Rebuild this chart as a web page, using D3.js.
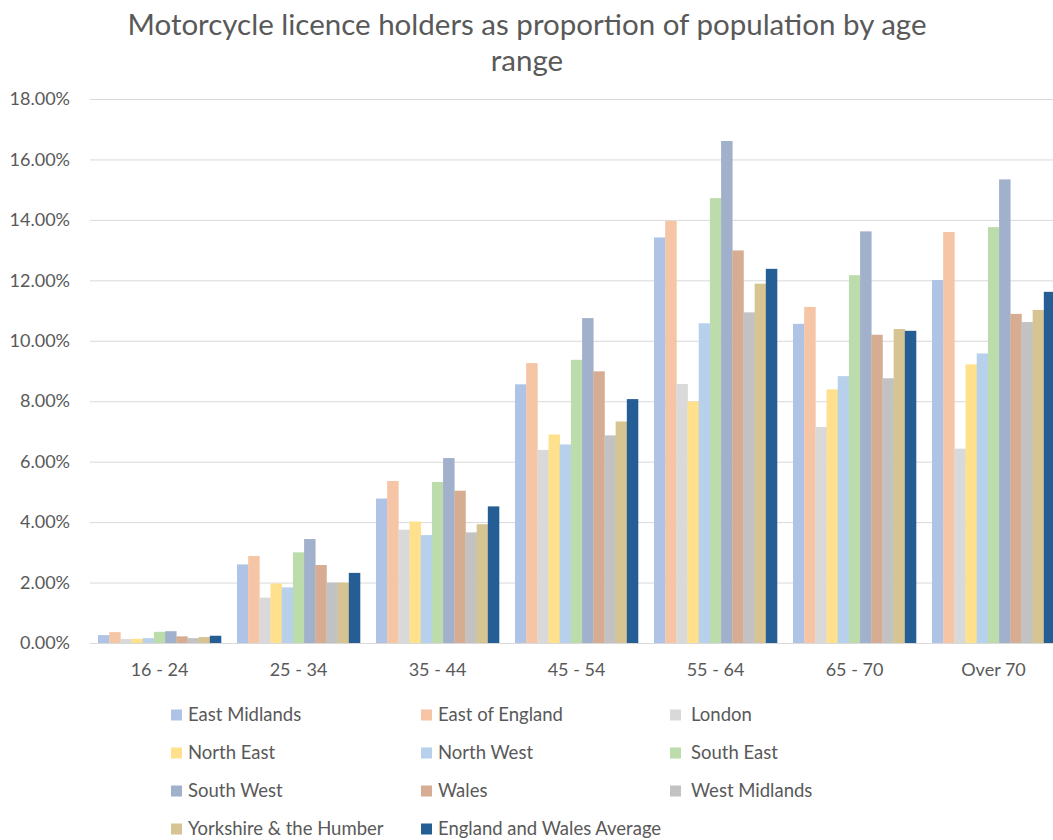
<!DOCTYPE html>
<html>
<head>
<meta charset="utf-8">
<script src="https://cdn.jsdelivr.net/npm/d3@7"></script>
<style>
  html, body { margin: 0; padding: 0; background: #ffffff; }
  svg { display: block; }
  text { font-family: Lato, "Noto Sans", sans-serif; fill: #595959; }
</style>
</head>
<body>
<svg id="chart" width="1053" height="840"></svg>
<script>
// Age ranges along the x axis
const ageRanges = ["16 - 24", "25 - 34", "35 - 44", "45 - 54", "55 - 64", "65 - 70", "Over 70"];

// Regions (one bar per region in each age range)
const regions = [
  "East Midlands", "East of England", "London",
  "North East", "North West", "South East",
  "South West", "Wales", "West Midlands",
  "Yorkshire & the Humber", "England and Wales Average"
];

// Share of population holding a motorcycle licence, in percent, per age range
const eastMidlands    = [0.26, 2.60, 4.78, 8.56, 13.42, 10.56, 12.01];
const eastOfEngland   = [0.36, 2.88, 5.36, 9.26, 13.97, 11.12, 13.60];
const london          = [0.13, 1.50, 3.75, 6.39, 8.57, 7.15, 6.43];
const northEast       = [0.14, 1.97, 4.02, 6.90, 7.99, 8.39, 9.22];
const northWest       = [0.16, 1.84, 3.57, 6.57, 10.58, 8.83, 9.58];
const southEast       = [0.37, 3.00, 5.33, 9.37, 14.72, 12.17, 13.76];
const southWest       = [0.39, 3.44, 6.12, 10.75, 16.61, 13.62, 15.34];
const wales           = [0.22, 2.58, 5.04, 8.99, 12.99, 10.20, 10.89];
const westMidlands    = [0.16, 2.00, 3.66, 6.87, 10.94, 8.76, 10.62];
const yorkshire       = [0.20, 2.00, 3.93, 7.33, 11.89, 10.39, 11.02];
const englandWalesAvg = [0.24, 2.32, 4.52, 8.07, 12.38, 10.33, 11.62];

const seriesValues = [
  eastMidlands, eastOfEngland, london, northEast, northWest, southEast,
  southWest, wales, westMidlands, yorkshire, englandWalesAvg
];

const seriesColors = [
  "#aec3e6", "#f6c5a5", "#d9d9d9", "#ffe08c", "#b7d1ec", "#bcdcac",
  "#a2b1cb", "#d6ad92", "#c2c2c2", "#d6c492", "#245e94"
];

const yTicks = [0, 2, 4, 6, 8, 10, 12, 14, 16, 18];

const titleLines = ["Motorcycle licence holders as proportion of population by age", "range"];

const svg = d3.select("#chart");

// Scales
const x = d3.scaleBand()
  .domain(ageRanges)
  .range([90, 1063])
  .paddingInner(0.115)
  .paddingOuter(0.0575);

const xInner = d3.scaleBand()
  .domain(d3.range(regions.length))
  .range([0, x.bandwidth()]);

const y = d3.scaleLinear()
  .domain([0, 18])
  .range([643, 99]);

// Title
svg.append("g")
  .selectAll("text")
  .data(titleLines)
  .join("text")
  .attr("x", 527)
  .attr("y", (d, i) => 35 + i * 36)
  .attr("text-anchor", "middle")
  .style("font-size", "29.5px")
  .text(d => d);

// Gridlines and y-axis labels
const yAxis = d3.axisLeft(y)
  .tickValues(yTicks)
  .tickSize(-(1063 - 90))
  .tickPadding(20)
  .tickFormat(d => d3.format(".2f")(d) + "%");

const yG = svg.append("g")
  .attr("transform", "translate(90,0)")
  .call(yAxis);
yG.select(".domain").remove();
yG.selectAll(".tick line").attr("stroke", "#d9d9d9").attr("stroke-width", 1);
yG.selectAll(".tick text")
  .attr("x", -20)
  .style("font-size", "18px")
  .style("fill", "#595959");

// Bars
const groups = svg.append("g")
  .selectAll("g")
  .data(ageRanges)
  .join("g")
  .attr("transform", d => `translate(${x(d)},0)`);

groups.selectAll("rect")
  .data((d, gi) => seriesValues.map((vals, si) => ({ si, v: vals[gi] })))
  .join("rect")
  .attr("x", d => xInner(d.si))
  .attr("width", xInner.bandwidth() + 0.3)
  .attr("y", d => y(d.v))
  .attr("height", d => y(0) - y(d.v))
  .attr("fill", d => seriesColors[d.si]);

// Baseline
svg.append("line")
  .attr("x1", 90).attr("x2", 1063)
  .attr("y1", y(0) + 0.5).attr("y2", y(0) + 0.5)
  .attr("stroke", "#d9d9d9");

// X-axis labels
const xAxis = d3.axisBottom(x).tickSize(0).tickPadding(20);
const xG = svg.append("g")
  .attr("transform", `translate(0,${y(0)})`)
  .call(xAxis);
xG.select(".domain").remove();
xG.selectAll(".tick text")
  .style("font-size", "18px")
  .style("fill", "#595959");

// Legend: three columns, four rows
const legendColX = [171, 421, 670];
const legendRowY = [715, 753, 791, 829];

const legend = svg.append("g")
  .selectAll("g")
  .data(regions)
  .join("g")
  .attr("transform", (d, i) => `translate(${legendColX[i % 3]},${legendRowY[Math.floor(i / 3)]})`);

legend.append("rect")
  .attr("x", 0)
  .attr("y", -5.5)
  .attr("width", 11)
  .attr("height", 11)
  .attr("fill", (d, i) => seriesColors[i]);

legend.append("text")
  .attr("x", (d, i) => (i % 3 === 2 ? 21 : 17))
  .attr("y", 0)
  .attr("dy", "0.35em")
  .style("font-size", "18.5px")
  .text(d => d);
</script>
</body>
</html>
